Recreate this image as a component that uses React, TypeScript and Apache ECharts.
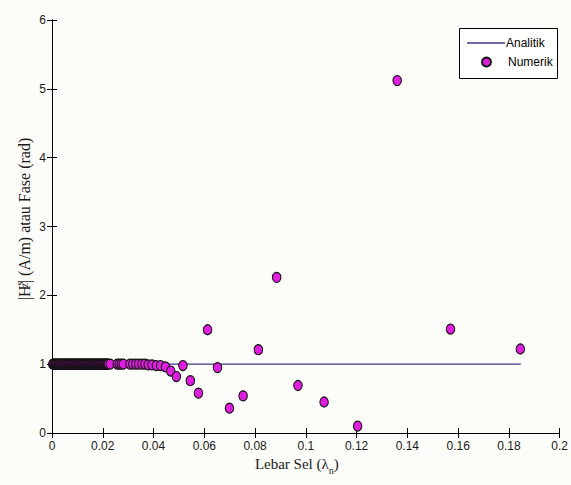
import React, { useEffect, useRef } from "react";
import * as echarts from "echarts";

// Analytic solution (constant)
const analX: number[] = [0.0005, 0.1847];
const analY: number[] = [1, 1];

// Numerical results, very fine cells (dense band at value 1)
const denseX: number[] = [
  0.0003, 0.0006, 0.0009, 0.0012, 0.0015, 0.0018, 0.0021, 0.0024, 0.0027, 0.003,
  0.0033, 0.0036, 0.0039, 0.0042, 0.0045, 0.0048, 0.0051, 0.0054, 0.0057, 0.006,
  0.0063, 0.0066, 0.0069, 0.0072, 0.0075, 0.0078, 0.0081, 0.0084, 0.0087, 0.009,
  0.0093, 0.0096, 0.0099, 0.0102, 0.0105, 0.0108, 0.0111, 0.0114, 0.0117, 0.012,
  0.0123, 0.0126, 0.0129, 0.0132, 0.0135, 0.0138, 0.0141, 0.0144, 0.0147, 0.015,
  0.0153, 0.0156, 0.0159, 0.0162, 0.0165, 0.0168, 0.0171, 0.0174, 0.0177, 0.018,
  0.0183, 0.0186, 0.0189, 0.0192, 0.0195, 0.0198, 0.0201, 0.0204, 0.0207, 0.021,
  0.0213, 0.0216, 0.0219, 0.0222,
];
const denseY: number[] = [
  1, 1, 1, 1, 1, 1, 1, 1, 1, 1,
  1, 1, 1, 1, 1, 1, 1, 1, 1, 1,
  1, 1, 1, 1, 1, 1, 1, 1, 1, 1,
  1, 1, 1, 1, 1, 1, 1, 1, 1, 1,
  1, 1, 1, 1, 1, 1, 1, 1, 1, 1,
  1, 1, 1, 1, 1, 1, 1, 1, 1, 1,
  1, 1, 1, 1, 1, 1, 1, 1, 1, 1,
  1, 1, 1, 1,
];

// Numerical results, coarser cells
const numX: number[] = [
  0.0229, 0.0257, 0.0265, 0.0273, 0.0281, 0.0307, 0.0318, 0.033, 0.0341,
  0.0354, 0.0366, 0.0379, 0.0394, 0.0411, 0.0428,
  0.0447, 0.0468, 0.049, 0.0516, 0.0545, 0.0577, 0.0613, 0.0652, 0.0699,
  0.0753, 0.0813, 0.0885, 0.0969, 0.1072, 0.1204, 0.136, 0.157, 0.1845,
];
const numY: number[] = [
  1, 1, 1, 1, 1, 1, 1, 1, 1,
  1, 1, 0.99, 0.99, 0.98, 0.98,
  0.96, 0.9, 0.82, 0.98, 0.76, 0.58, 1.5, 0.95, 0.36,
  0.54, 1.21, 2.26, 0.69, 0.45, 0.1, 5.12, 1.51, 1.22,
];

const xMin = 0, xMax = 0.2, xStep = 0.02;
const yMin = 0, yMax = 6, yStep = 1;

const seriesNames = ["Analitik", "Numerik"];
const yTitle = "{n||H}{sup|s}{sub|z}{n|| (A/m) atau Fase (rad)}";

export default function App() {
  const ref = useRef<HTMLDivElement>(null);
  useEffect(() => {
    if (!ref.current) return;
    const chart = echarts.init(ref.current, null, { renderer: "svg" });
    const tickFont = { fontFamily: "Liberation Sans", fontSize: 12, color: "#1a1a1a" };
    const axisLine = { show: true, lineStyle: { color: "#000", width: 1 } };
    const axisTick = { show: true, inside: true, length: 5, lineStyle: { color: "#000", width: 1 } };
    const points = denseX.map((x, i) => [x, denseY[i]]).concat(numX.map((x, i) => [x, numY[i]]));
    const yFont = "Liberation Serif";
    chart.setOption({
      animation: false,
      backgroundColor: "#fcfcf8",
      grid: { left: 52, right: 8.5, top: 20, bottom: 52 },
      legend: [
        {
          data: [{ name: seriesNames[0], icon: "rect" }],
          left: 462, top: 32,
          itemWidth: 38, itemHeight: 1.4,
          textStyle: { fontFamily: "Liberation Sans", fontSize: 12, color: "#000", padding: [0, 0, 0, -4] },
        },
        {
          data: [seriesNames[1]],
          left: 476, top: 51,
          itemWidth: 9, itemHeight: 11,
          textStyle: { fontFamily: "Liberation Sans", fontSize: 12, color: "#000", padding: [0, 0, 0, 12] },
        },
      ],
      graphic: [
        {
          type: "rect",
          shape: { x: 459.5, y: 28.5, width: 98, height: 50 },
          style: { fill: "#ffffff", stroke: "#000", lineWidth: 1 },
        },
        {
          type: "text",
          x: 24, y: 219, rotation: Math.PI / 2,
          style: {
            text: yTitle,
            align: "center", verticalAlign: "middle",
            fontFamily: yFont, fontSize: 16, fill: "#1a1a1a",
            rich: {
              n: { fontFamily: yFont, fontSize: 16, fill: "#1a1a1a" },
              sup: { fontFamily: yFont, fontSize: 10, fill: "#1a1a1a", padding: [0, 0, 10, 0] },
              sub: { fontFamily: yFont, fontSize: 10, fill: "#1a1a1a", padding: [0, 0, 0, -6] },
            },
          },
        },
      ],
      xAxis: [
        {
          type: "value", min: xMin, max: xMax, interval: xStep, position: "bottom",
          axisLine, axisTick, splitLine: { show: false },
          axisLabel: { ...tickFont, margin: 7 },
          name: "{n|Lebar Sel (λ}{sub|n}{n|)}",
          nameLocation: "middle", nameGap: 15,
          nameTextStyle: {
            padding: [0, 18, 0, 0],
            rich: {
              n: { fontFamily: "Liberation Serif", fontSize: 15, color: "#1a1a1a" },
              sub: { fontFamily: "Liberation Serif", fontSize: 10, color: "#1a1a1a", verticalAlign: "bottom", padding: [12, 0, 0, 0] },
            },
          },
        },
        {
          type: "value", min: xMin, max: xMax, interval: xStep, position: "top",
          axisLine, axisTick, splitLine: { show: false }, axisLabel: { show: false },
        },
      ],
      yAxis: [
        {
          type: "value", min: yMin, max: yMax, interval: yStep, position: "left",
          axisLine, axisTick, splitLine: { show: false },
          axisLabel: { ...tickFont, margin: 6 },
        },
        {
          type: "value", min: yMin, max: yMax, interval: yStep, position: "right",
          axisLine, axisTick, splitLine: { show: false }, axisLabel: { show: false },
        },
      ],
      series: [
        {
          name: seriesNames[0],
          type: "line",
          data: analX.map((x, i) => [x, analY[i]]),
          symbol: "none",
          lineStyle: { color: "#3b3a8a", width: 1.3 },
          itemStyle: { color: "#3b3a8a" },
          z: 2,
        },
        {
          name: seriesNames[1],
          type: "scatter",
          data: points,
          symbol: "circle",
          symbolSize: [8.5, 10],
          itemStyle: { color: "#e01ee0", borderColor: "#111", borderWidth: 1.1, opacity: 1 },
          z: 3,
        },
      ],
    });
    return () => chart.dispose();
  }, []);
  return <div ref={ref} style={{ position: "fixed", left: 0, top: 0, width: 571, height: 485 }} />;
}
